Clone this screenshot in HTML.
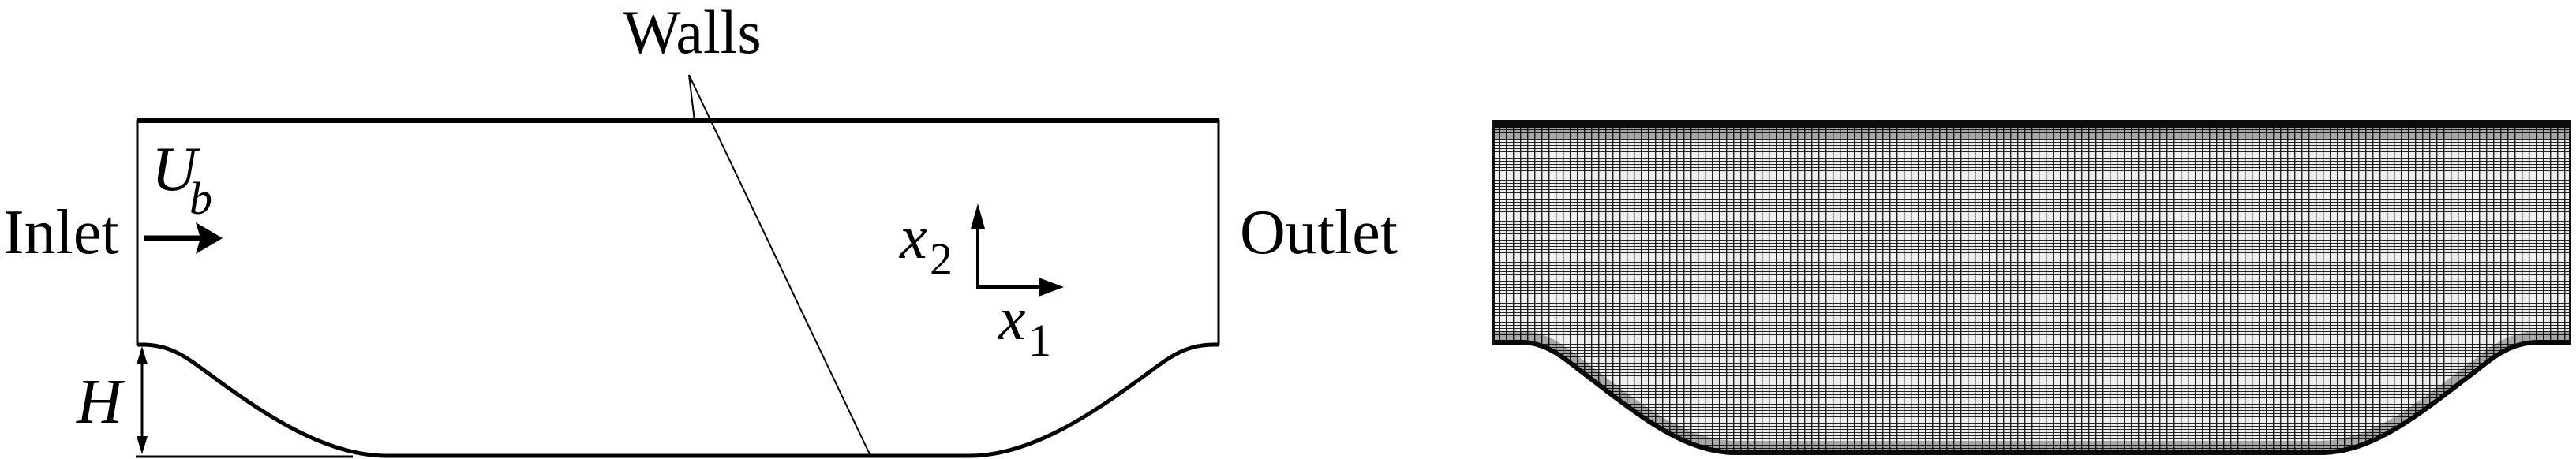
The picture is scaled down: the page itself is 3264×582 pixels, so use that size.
<!DOCTYPE html>
<html><head><meta charset="utf-8"><style>
html,body{margin:0;padding:0;background:#fff;width:3264px;height:582px;overflow:hidden}
</style></head><body>
<svg width="3264" height="582" viewBox="0 0 3264 582" xmlns="http://www.w3.org/2000/svg" font-family="'Liberation Serif', 'DejaVu Serif', serif" style="font-family:'Liberation Serif','DejaVu Serif',serif">
<defs>
<pattern id="hl" width="20" height="4" patternUnits="userSpaceOnUse">
<rect x="0" y="0" width="20" height="1" fill="#222"/>
</pattern>
<pattern id="vl" width="9" height="20" patternUnits="userSpaceOnUse">
<rect x="0" y="0" width="1.4" height="20" fill="#1a1a1a"/>
</pattern>
<clipPath id="mc">
<path d="M1891,152 L3258,152 L3258,437 L3217,437 C3185,437 3165,452 3140,472 C3070,525 3010,577 2940,577 L2200,577 C2130,577 2070,525 2000,472 C1975,452 1955,437 1927,437 L1891,437 Z"/>
</clipPath>
</defs>

<!-- Left diagram -->
<path d="M174,437 L174,153 L1544,153 L1544,437" fill="none" stroke="#000" stroke-width="3"/>
<line x1="174" y1="153" x2="1544" y2="153" stroke="#000" stroke-width="6"/>
<path d="M174,437 L180,437 C215,437 235,452 262,472 C330,522 410,578 490,578 L1228,578 C1308,578 1388,522 1456,472 C1483,452 1503,437 1538,437 L1544,437" fill="none" stroke="#000" stroke-width="5"/>

<text x="789" y="67" font-size="78">Walls</text>
<line x1="873" y1="95" x2="880" y2="153" stroke="#000" stroke-width="2"/>
<line x1="873" y1="95" x2="1103" y2="578" stroke="#000" stroke-width="2"/>

<text x="4" y="321" font-size="80">Inlet</text>
<text x="1571" y="321" font-size="80">Outlet</text>

<text x="192" y="241" font-size="80" font-style="italic">U</text>
<text x="240" y="271" font-size="58" font-style="italic">b</text>
<line x1="183" y1="302" x2="258" y2="302" stroke="#000" stroke-width="7"/>
<polygon points="282,302 248,282 254,302 248,322" fill="#000"/>

<!-- axes -->
<line x1="1239" y1="280" x2="1239" y2="366" stroke="#000" stroke-width="4"/>
<polygon points="1239,258 1230,290 1248,290" fill="#000"/>
<line x1="1237" y1="364" x2="1325" y2="364" stroke="#000" stroke-width="5"/>
<polygon points="1348,364 1316,352 1316,376" fill="#000"/>
<text x="1140" y="327" font-size="78" font-style="italic">x</text>
<text x="1178" y="348" font-size="58">2</text>
<text x="1265" y="430" font-size="78" font-style="italic">x</text>
<text x="1303" y="451" font-size="58">1</text>

<text x="97" y="536" font-size="80" font-style="italic">H</text>
<line x1="180" y1="455" x2="180" y2="560" stroke="#000" stroke-width="3"/>
<polygon points="180,439 173,462 187,462" fill="#000"/>
<polygon points="180,576 173,553 187,553" fill="#000"/>
<line x1="172" y1="579" x2="447" y2="579" stroke="#000" stroke-width="3"/>

<!-- Mesh -->
<g clip-path="url(#mc)">
<rect x="1880" y="140" width="1390" height="450" fill="#eef0f0"/>
<rect x="1880" y="140" width="1390" height="450" fill="url(#hl)"/>
<rect x="1880" y="140" width="1390" height="450" fill="url(#vl)"/>
<rect x="1880" y="150" width="1390" height="12" fill="#0b0b0b"/>
<rect x="1880" y="162" width="1390" height="14" fill="#000" opacity="0.3"/>
<path d="M1880,437 L1927,437 C1955,437 1975,452 2000,472 C2070,525 2130,577 2200,577 L2940,577 C3010,577 3070,525 3140,472 C3165,452 3185,437 3217,437 L3270,437" fill="none" stroke="#0b0b0b" stroke-width="12"/>
<path d="M1880,428 L1927,428 C1955,428 1975,442 2000,462 C2070,515 2130,567 2200,567 L2940,567 C3010,567 3070,515 3140,462 C3165,442 3185,428 3217,428 L3270,428" fill="none" stroke="#000" stroke-opacity="0.3" stroke-width="16"/>
<rect x="1891" y="150" width="3" height="300" fill="#111"/>
<rect x="3255" y="150" width="3" height="300" fill="#111"/>
</g>
</svg>
</body></html>
